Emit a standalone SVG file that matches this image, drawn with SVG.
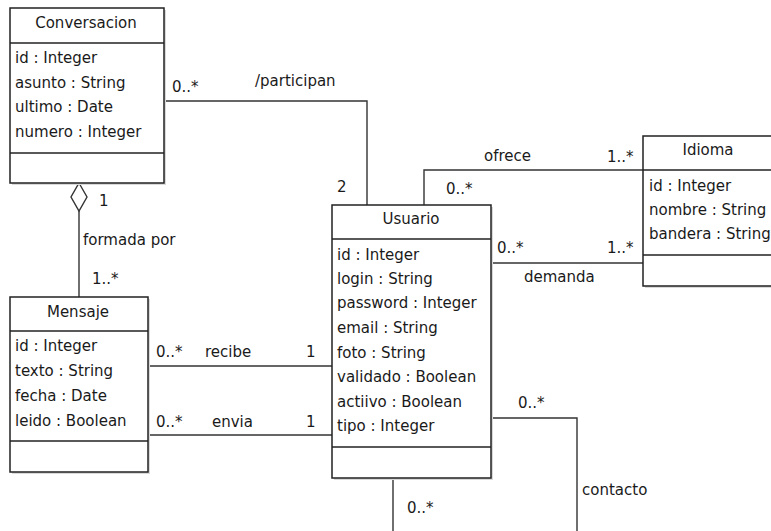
<svg xmlns="http://www.w3.org/2000/svg" width="771" height="531" viewBox="0 0 771 531">
<style>
text{font-family:"DejaVu Sans","Liberation Sans",sans-serif;font-size:15px;fill:#1a1a1a}
.box{fill:#fff;stroke:#222;stroke-width:1.5}
.sh{fill:#d9d9d9}
.sep{stroke:#222;stroke-width:1.5}
.c{fill:none;stroke:#333;stroke-width:1.4}
.h{text-anchor:middle}
</style>
<rect width="771" height="531" fill="#fff"/>
<g id="connectors">
<polyline class="c" points="164,101 367,101 367,205"/>
<polyline class="c" points="424,205 424,170 643,170"/>
<line class="c" x1="491" y1="263" x2="643" y2="263"/>
<polygon class="c" fill="#fff" points="79,183 87,197 79,211 71,197"/>
<line class="c" x1="79" y1="211" x2="79" y2="297"/>
<line class="c" x1="148" y1="366" x2="332" y2="366"/>
<line class="c" x1="148" y1="435" x2="332" y2="435"/>
<polyline class="c" points="491,418 577,418 577,540"/>
<line class="c" x1="393" y1="478" x2="393" y2="540"/>
<text x="172" y="92">0..*</text>
<text x="255" y="86">/participan</text>
<text x="337" y="192">2</text>
<text x="484" y="161">ofrece</text>
<text x="607" y="162">1..*</text>
<text x="446" y="194">0..*</text>
<text x="497" y="253">0..*</text>
<text x="607" y="253">1..*</text>
<text x="524" y="282">demanda</text>
<text x="99" y="206">1</text>
<text x="83" y="245">formada por</text>
<text x="92" y="284">1..*</text>
<text x="156" y="357">0..*</text>
<text x="205" y="357">recibe</text>
<text x="306" y="357">1</text>
<text x="156" y="427">0..*</text>
<text x="212" y="427">envia</text>
<text x="306" y="427">1</text>
<text x="518" y="408">0..*</text>
<text x="582" y="495">contacto</text>
<text x="407" y="513">0..*</text>
</g>
<g id="Conversacion">
<rect class="sh" x="12" y="10" width="154" height="175"/>
<rect class="box" x="10" y="8" width="154" height="175"/>
<line class="sep" x1="10" y1="43" x2="164" y2="43"/>
<line class="sep" x1="10" y1="153" x2="164" y2="153"/>
<text class="h" x="86" y="28">Conversacion</text>
<text x="15" y="63">id : Integer</text>
<text x="15" y="88">asunto : String</text>
<text x="15" y="112">ultimo : Date</text>
<text x="15" y="137">numero : Integer</text>
</g>
<g id="Mensaje">
<rect class="sh" x="12" y="299" width="138" height="175"/>
<rect class="box" x="10" y="297" width="138" height="175"/>
<line class="sep" x1="10" y1="331" x2="148" y2="331"/>
<line class="sep" x1="10" y1="441" x2="148" y2="441"/>
<text class="h" x="78" y="317">Mensaje</text>
<text x="15" y="351">id : Integer</text>
<text x="15" y="376">texto : String</text>
<text x="15" y="401">fecha : Date</text>
<text x="15" y="426">leido : Boolean</text>
</g>
<g id="Usuario">
<rect class="sh" x="334" y="207" width="159" height="273"/>
<rect class="box" x="332" y="205" width="159" height="273"/>
<line class="sep" x1="332" y1="239" x2="491" y2="239"/>
<line class="sep" x1="332" y1="447" x2="491" y2="447"/>
<text class="h" x="411" y="224">Usuario</text>
<text x="337" y="260">id : Integer</text>
<text x="337" y="284">login : String</text>
<text x="337" y="308">password : Integer</text>
<text x="337" y="333">email : String</text>
<text x="337" y="358">foto : String</text>
<text x="337" y="382">validado : Boolean</text>
<text x="337" y="407">actiivo : Boolean</text>
<text x="337" y="431">tipo : Integer</text>
</g>
<g id="Idioma">
<rect class="sh" x="645" y="138" width="137" height="150"/>
<rect class="box" x="643" y="136" width="137" height="150"/>
<line class="sep" x1="643" y1="170" x2="780" y2="170"/>
<line class="sep" x1="643" y1="255" x2="780" y2="255"/>
<text class="h" x="708" y="155">Idioma</text>
<text x="649" y="191">id : Integer</text>
<text x="649" y="215">nombre : String</text>
<text x="649" y="239">bandera : String</text>
</g>
</svg>
